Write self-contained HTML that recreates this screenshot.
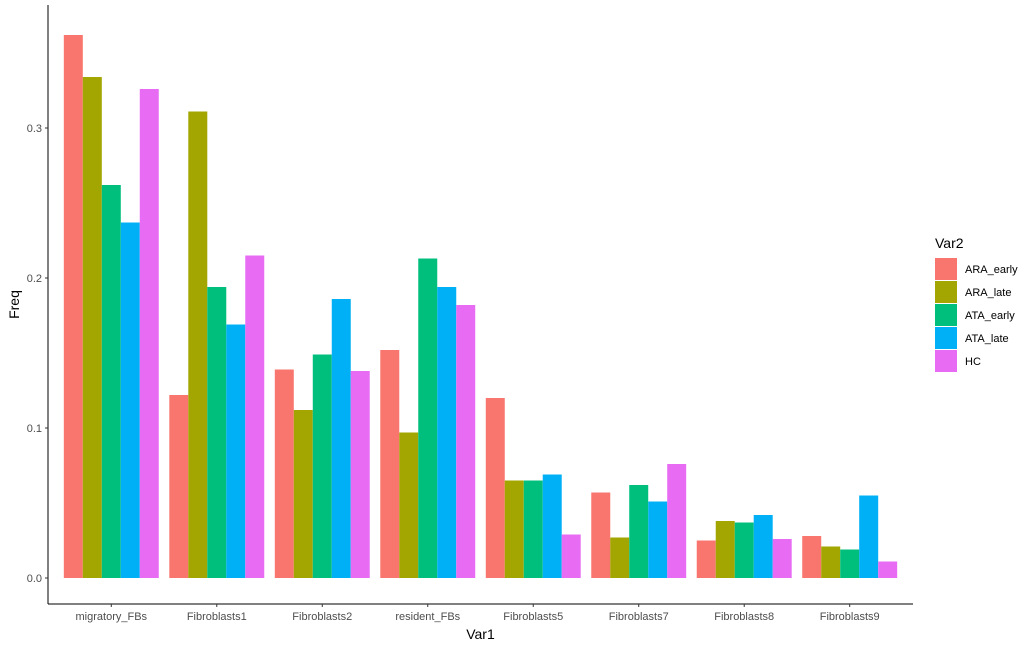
<!DOCTYPE html>
<html><head><meta charset="utf-8"><style>
body{margin:0;background:#fff;}
svg{display:block;font-family:"Liberation Sans",sans-serif;}
</style></head><body>
<svg id="chart" width="1036" height="650">
<g id="plot"></g>
</svg>
<script>
const categories=["migratory_FBs","Fibroblasts1","Fibroblasts2","resident_FBs","Fibroblasts5","Fibroblasts7","Fibroblasts8","Fibroblasts9"];
const seriesNames=["ARA_early","ARA_late","ATA_early","ATA_late","HC"];
const seriesColors=["#F8766D","#A3A500","#00BF7D","#00B0F6","#E76BF3"];
const ARA_early=[0.362,0.122,0.139,0.152,0.120,0.057,0.025,0.028];
const ARA_late=[0.334,0.311,0.112,0.097,0.065,0.027,0.038,0.021];
const ATA_early=[0.262,0.194,0.149,0.213,0.065,0.062,0.037,0.019];
const ATA_late=[0.237,0.169,0.186,0.194,0.069,0.051,0.042,0.055];
const HC=[0.326,0.215,0.138,0.182,0.029,0.076,0.026,0.011];
const yTicks=[0,0.1,0.2,0.3];
const yTickLabels=["0.0","0.1","0.2","0.3"];

const NS="http://www.w3.org/2000/svg";
const svg=document.getElementById('chart');
const L=48,R=913,T=5,B=604;
const unit=(R-L)/(categories.length-1+1.2);
function xc(i){return L+(0.6+i)*unit;}
function y(v){return 578-1500*v;}
function mk(tag,attrs,parent){const e=document.createElementNS(NS,tag);for(const k in attrs)e.setAttribute(k,attrs[k]);(parent||svg).appendChild(e);return e;}
const all=[ARA_early,ARA_late,ATA_early,ATA_late,HC];
const gw=unit*0.9,bw=gw/5;
all.forEach((s,si)=>{s.forEach((v,ci)=>{
 const r=mk('rect',{x:xc(ci)-gw/2+si*bw,y:y(v),width:bw,height:y(0)-y(v),fill:seriesColors[si]});
 
 
});});
let ax=mk('line',{x1:L,y1:T,x2:L,y2:B,stroke:'#000','stroke-width':1});

ax=mk('line',{x1:L,y1:B,x2:R,y2:B,stroke:'#000','stroke-width':1});

yTicks.forEach((v,i)=>{
 const tk=mk('line',{x1:L-3,y1:y(v),x2:L,y2:y(v),stroke:'#333'});
 
 const t=mk('text',{x:L-6,y:y(v)+4,'text-anchor':'end','font-size':11,fill:'#4d4d4d'});
 t.textContent=yTickLabels[i];
 
});
categories.forEach((c,i)=>{
 const tk=mk('line',{x1:xc(i),y1:B,x2:xc(i),y2:B+3,stroke:'#333'});
 
 const t=mk('text',{x:xc(i),y:B+16,'text-anchor':'middle','font-size':11,fill:'#4d4d4d'});
 t.textContent=c;
 
});
let t=mk('text',{x:(L+R)/2,y:639,'text-anchor':'middle','font-size':14,fill:'#000'});t.textContent='Var1';

t=mk('text',{x:19,y:(T+B)/2,'text-anchor':'middle','font-size':14,fill:'#000',transform:'rotate(-90 19 '+((T+B)/2)+')'});t.textContent='Freq';

t=mk('text',{x:935,y:248,'font-size':14,fill:'#000'});t.textContent='Var2';

seriesNames.forEach((n,i)=>{
 const r=mk('rect',{x:935,y:258+i*23,width:22,height:22,fill:seriesColors[i]});
 
 const tx=mk('text',{x:965,y:273+i*23,'font-size':11,fill:'#000'});tx.textContent=n;
 
});
</script>
</body></html>
